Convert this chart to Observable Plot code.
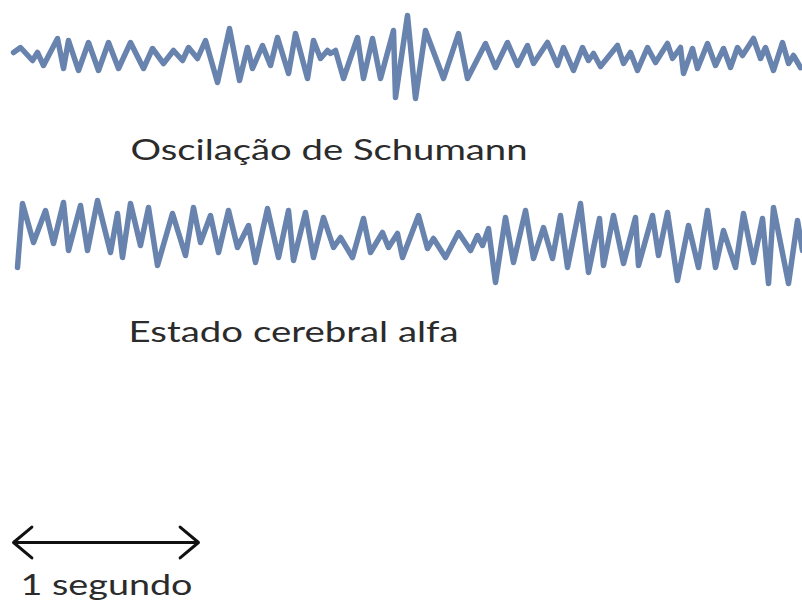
<!DOCTYPE html>
<html><head><meta charset="utf-8">
<script src="https://cdn.jsdelivr.net/npm/d3@7"></script>
<script src="https://cdn.jsdelivr.net/npm/@observablehq/plot@0.6"></script>
<style>body{margin:0;background:#fff;} #chart svg{display:block;}</style>
</head><body><div id="chart"></div>
<script>
// Schumann oscillation: time (sample units) and amplitude (arbitrary units)
const schumannT = [13,20,32,37,43,57,63,68,78,88,98,108,118,130,143,152,163,173,182,188,197,
  205,217,229,239,247,252,262,270,277,288,295,307,313,320,327,330,335,343,357,363,372,380,393,395,
  407,415,425,443,458,467,485,495,507,517,527,533,547,557,563,573,582,588,593,600,
  617,623,630,637,647,655,667,672,680,683,692,697,707,715,723,730,737,742,753,760,765,773,782,788,793,800];
const schumannV = [3,8,-5,3,-10,17,-13,15,-15,13,-15,13,-13,13,-13,7,-8,5,-5,8,-3,
  15,-27,27,-25,8,-13,10,-10,18,-18,22,-23,15,-3,5,2,5,-23,18,-23,17,-23,25,-42,
  40,-43,25,-23,22,-23,12,-12,13,-10,10,-8,13,-10,8,-15,8,-5,2,-11,
  10,-8,3,-15,8,-7,12,-3,8,-18,7,-13,12,-10,7,-12,8,0,17,-3,8,-15,13,-8,0,-12];

// Alpha brain state
const alphaT = [17,22,33,45,53,63,68,80,87,97,110,117,122,130,140,148,157,172,185,193,200,210,218,228,237,248,255,267,278,288,293,305,313,323,333,340,352,363,370,382,388,397,402,
  418,427,433,445,458,470,477,482,488,495,505,513,525,533,543,552,560,567,580,588,599,603,613,623,635,638,652,658,667,677,688,698,707,715,723,735,743,753,762,768,773,788,797,802];
const alphaV = [-27,37,-2,30,-3,38,-10,35,-10,40,-12,27,-17,37,-5,33,-25,27,-15,33,-2,25,-12,30,-7,15,-22,32,-17,30,-20,28,-17,23,-7,3,-17,22,-12,8,-7,7,-17,
  25,-8,2,-17,8,-10,5,-5,12,-42,23,-22,30,-18,13,-18,25,-27,37,-32,22,-25,25,-23,23,-25,25,-15,28,-40,15,-27,30,-27,10,-27,27,-22,22,-43,33,-43,20,-10];

const labels = ["Oscilação de Schumann", "Estado cerebral alfa"];
const scaleLabel = ["1 segundo"];
const oneSecond = [13, 198]; // start and end of one second, in time units

const COLOR = "#6883ad";
const TOP_BASE = 55, BOT_BASE = 240;

const schumann = schumannT.map((t, i) => ({t, v: schumannV[i]}));
const alpha = alphaT.map((t, i) => ({t, v: alphaV[i]}));
const mid = (oneSecond[0] + oneSecond[1]) / 2;

const svg = Plot.plot({
  width: 802, height: 606, margin: 0,
  x: {domain: [0, 802], axis: null},
  y: {domain: [0, 606], reverse: true, axis: null},
  style: {background: "#fff"},
  marks: [
    Plot.line(schumann, {x: "t", y: d => TOP_BASE - d.v, stroke: COLOR, strokeWidth: 5.5, strokeLinejoin: "round", strokeLinecap: "round"}),
    Plot.line(alpha, {x: "t", y: d => BOT_BASE - d.v, stroke: COLOR, strokeWidth: 5.5, strokeLinejoin: "round", strokeLinecap: "round"}),
    Plot.text([labels[0]], {x: 130, y: 150, text: d => d, textAnchor: "start", fontSize: 29, fill: "#2b2b2b", fontFamily: "Lato"}),
    Plot.text([labels[1]], {x: 128, y: 332, text: d => d, textAnchor: "start", fontSize: 29, fill: "#2b2b2b", fontFamily: "Lato"}),
    Plot.text(scaleLabel, {x: 20, y: 585, text: d => d, textAnchor: "start", fontSize: 29, fill: "#2b2b2b", fontFamily: "Lato"}),
    Plot.arrow([oneSecond[0], oneSecond[1]], {x1: () => mid, x2: d => d, y1: 542, y2: 542, stroke: "#111", strokeWidth: 3, headLength: 12, headAngle: 80, insetEnd: 0, insetStart: 0})
  ]
});
document.getElementById("chart").appendChild(svg);
const targetWidths = [397, 330, 172];
d3.select(svg).selectAll('g[aria-label="text"] text').each(function(_, i) {
  if (targetWidths[i]) {
    this.setAttribute("textLength", targetWidths[i]);
    this.setAttribute("lengthAdjust", "spacingAndGlyphs");
  }
});
</script></body></html>
